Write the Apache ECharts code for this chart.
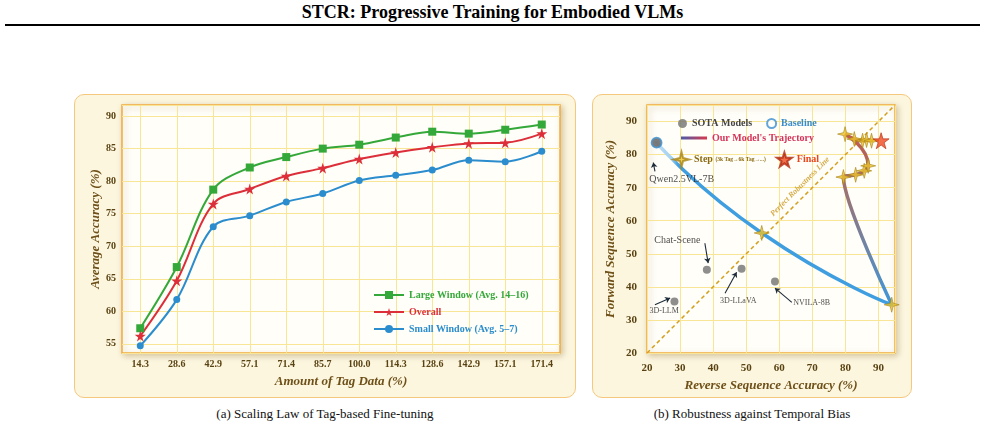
<!DOCTYPE html>
<html>
<head>
<meta charset="utf-8">
<script src="https://cdn.jsdelivr.net/npm/echarts@6/dist/echarts.min.js"></script>
<style>
body{margin:0;background:#fff;font-family:"Liberation Serif",serif;}
#page{position:relative;width:985px;height:431px;overflow:hidden;}
.title{position:absolute;left:0;top:2px;width:985px;text-align:center;font-weight:bold;font-size:18px;color:#000;}
.rule{position:absolute;left:5px;top:24px;width:975px;height:2px;background:#000;}
.panel{position:absolute;top:94px;height:304px;border:1.5px solid #f5c87e;border-radius:10px;background:#fcf6df;box-sizing:border-box;}
.cap{position:absolute;top:406px;font-size:13px;text-align:center;color:#111;}
#chart{position:absolute;left:0;top:0;width:985px;height:431px;}
</style>
</head>
<body>
<div id="page">
  <div class="title">STCR: Progressive Training for Embodied VLMs</div>
  <div class="rule"></div>
  <div class="panel" style="left:74px;width:502px;"></div>
  <div class="panel" style="left:592px;width:320px;"></div>
  <div class="cap" style="left:175px;width:300px;">(a) Scaling Law of Tag-based Fine-tuning</div>
  <div class="cap" style="left:602px;width:300px;">(b) Robustness against Temporal Bias</div>
  <div id="chart"></div>
</div>
<script>
/* (a) scaling law data */
var tagAmounts = ['14.3','28.6','42.9','57.1','71.4','85.7','100.0','114.3','128.6','142.9','157.1','171.4'];
var largeWindow = [57.4,66.8,78.7,82.1,83.7,85.0,85.6,86.7,87.6,87.3,87.9,88.7];
var overallAcc = [56.2,64.7,76.5,78.8,80.8,82.0,83.4,84.4,85.2,85.8,85.9,87.3];
var smallWindow = [54.7,61.8,73.0,74.7,76.8,78.1,80.1,80.9,81.7,83.2,83.0,84.6];

/* (b) robustness data: x = reverse acc, y = forward acc */
var sotaNames = ['Chat-Scene','3D-LLaVA','NVILA-8B','3D-LLM'];
var sotaReverse = [38.1,48.6,58.7,28.3];
var sotaForward = [45.2,45.5,41.6,35.6];
var baselineName = 'Qwen2.5VL-7B';
var baselineReverse = 22.9;
var baselineForward = 83.6;
var trajReverse = [22.9,54.7,94.0,79.4,83.1,85.7,86.9,79.9,82.7,85.2,86.4,87.9];
var trajForward = [83.6,56.3,34.6,73.2,73.9,75.1,76.6,86.2,84.7,84.2,84.4,84.2];
var finalReverse = 90.8;
var finalForward = 84.2;

/* annotation layout (b) */
var annotNames = ['Qwen2.5VL-7B','Chat-Scene','3D-LLaVA','NVILA-8B','3D-LLM'];
var annotPos = [[30.5,72.6],[29.2,54.2],[47.6,35.9],[69.8,35.1],[25.2,32.6]];
var annotSize = [10,10,8,8,8];
var arrowTail = [[22.4,74.9],[37.5,53.2],[43.6,38.1],[63.8,35.3],[22.4,34.6]];
var arrowHead = [[21.9,77.6],[38.5,47.2],[47.1,44.4],[58.7,39.6],[27.0,36.6]];

var FONT = 'Liberation Serif';
var gridYellow = '#f8e596';
var tickColor = '#5a4312';
var nameColor = '#6e5018';
var green = '#35a83a', red = '#dc2f3a', blue = '#2b8dcd';
var star5 = 'path://M50,0 L61,35 L98,35 L68,57 L79,91 L50,70 L21,91 L32,57 L2,35 L39,35 Z';
var star4 = 'path://M50,0 L60,40 L100,50 L60,60 L50,100 L40,60 L0,50 L40,40 Z';

var chart = echarts.init(document.getElementById('chart'));

function zip(xs, ys){
	var out = [];
	for (var i = 0; i < xs.length; i++) out.push([xs[i], ys[i]]);
	return out;
}
var traj = zip(trajReverse, trajForward);

var gridStyle = {
	show:true,
	backgroundColor:'#fffef8',
	borderColor:'#f2ab3c',
	borderWidth:1.5,
	shadowBlur:6,
	shadowColor:'rgba(120,80,0,0.3)',
	shadowOffsetX:2,
	shadowOffsetY:2
};
var labelStyle = {color:tickColor, fontFamily:FONT, fontWeight:'bold', fontSize:10};
var axisNameStyle = {color:nameColor, fontFamily:FONT, fontWeight:'bold', fontStyle:'italic', fontSize:13};

var annotData = annotNames.map(function(n, i){
	return {name:n, value:annotPos[i], label:{fontSize:annotSize[i]}};
});
annotData.push({
	name:'Perfect Robustness Line', value:[66.3,70.3],
	label:{fontSize:8, rotate:45, color:'#c8961a', fontStyle:'italic', fontWeight:'bold'}
});
var arrowData = arrowTail.map(function(t, i){
	return [{coord:t}, {coord:arrowHead[i]}];
});

var option = {
	animation:false,
	grid:[
		Object.assign({left:122, top:105, width:438, height:248}, gridStyle),
		Object.assign({left:647, top:105, width:248, height:248}, gridStyle)
	],
	xAxis:[{
		gridIndex:0, type:'category', data:tagAmounts, boundaryGap:true,
		axisLine:{show:false}, axisTick:{show:false},
		splitLine:{show:true, alignWithLabel:true, lineStyle:{color:gridYellow, width:1}},
		axisLabel:Object.assign({margin:6, interval:0}, labelStyle),
		name:'Amount of Tag Data (%)', nameLocation:'middle', nameGap:22, nameTextStyle:axisNameStyle
	},{
		gridIndex:1, type:'value', min:20, max:95, interval:10,
		axisLine:{show:false}, axisTick:{show:false},
		splitLine:{show:true, lineStyle:{color:gridYellow, width:1}},
		axisLabel:Object.assign({margin:10, showMaxLabel:false}, labelStyle, {fontSize:11}),
		name:'Reverse Sequence Accuracy (%)', nameLocation:'middle', nameGap:25, nameTextStyle:axisNameStyle
	}],
	yAxis:[{
		gridIndex:0, type:'value', min:53.6, max:91.7, splitNumber:7,
		axisLine:{show:false}, axisTick:{show:false},
		splitLine:{show:true, lineStyle:{color:gridYellow, width:1}},
		axisLabel:Object.assign({margin:6, showMinLabel:false, showMaxLabel:false}, labelStyle),
		name:'Average Accuracy (%)', nameLocation:'middle', nameGap:20, nameTextStyle:axisNameStyle
	},{
		gridIndex:1, type:'value', min:20, max:95, interval:10,
		axisLine:{show:false}, axisTick:{show:false},
		splitLine:{show:true, lineStyle:{color:gridYellow, width:1}},
		axisLabel:Object.assign({margin:10, showMaxLabel:false}, labelStyle, {fontSize:11}),
		name:'Forward Sequence Accuracy (%)', nameLocation:'middle', nameGap:30, nameTextStyle:axisNameStyle
	}],
	legend:[{
		orient:'vertical', left:368, top:285, itemWidth:30, itemHeight:10, itemGap:7,
		selectedMode:false,
		textStyle:{fontFamily:FONT, fontWeight:'bold', fontSize:10},
		data:[
			{name:'Large Window (Avg. 14–16)', textStyle:{color:green}},
			{name:'Overall', textStyle:{color:red}},
			{name:'Small Window (Avg. 5–7)', textStyle:{color:blue}}
		]
	},{
		left:673, top:113, itemWidth:9, itemHeight:9, itemGap:14, selectedMode:false,
		textStyle:{fontFamily:FONT, fontWeight:'bold', fontSize:10},
		data:[
			{name:'SOTA Models', icon:'circle', textStyle:{color:'#444'}},
			{name:'Baseline', icon:'emptyCircle', itemStyle:{color:'#3a8fd0', borderColor:'#3a8fd0', borderWidth:1.5}, textStyle:{color:'#3a8cc8'}}
		]
	},{
		left:676, top:128, itemWidth:26, itemHeight:3, selectedMode:false,
		textStyle:{fontFamily:FONT, fontWeight:'bold', fontSize:10},
		data:[{
			name:"Our Model's Trajectory", icon:'rect',
			itemStyle:{color:new echarts.graphic.LinearGradient(0,0,1,0,[{offset:0,color:'#4a5cab'},{offset:1,color:'#d8394c'}])},
			textStyle:{color:'#d6335a'}
		}]
	},{
		left:668, top:146, itemWidth:15, itemHeight:15, itemGap:10, selectedMode:false,
		textStyle:{fontFamily:FONT, fontWeight:'bold', fontSize:10,
			rich:{
				s:{fontFamily:FONT, fontWeight:'bold', fontSize:10, color:'#8b6a12'},
				t:{fontFamily:FONT, fontSize:5.5, color:'#8b6a12'}
			}
		},
		formatter:function(name){
			return name === 'Step' ? '{s|Step} {t|(3k Tag→6k Tag→...)}' : name;
		},
		data:[
			{name:'Step', icon:star4},
			{name:'Final', icon:star5, textStyle:{color:'#e8451c'}}
		]
	}],
	series:[
		{
			name:'Large Window (Avg. 14–16)', type:'line', xAxisIndex:0, yAxisIndex:0,
			data:largeWindow, smooth:0.35, symbol:'rect', symbolSize:8,
			lineStyle:{width:2, color:green}, itemStyle:{color:green}, z:4
		},{
			name:'Overall', type:'line', xAxisIndex:0, yAxisIndex:0,
			data:overallAcc, smooth:0.35, symbol:star5, symbolSize:11,
			lineStyle:{width:2, color:red}, itemStyle:{color:red}, z:4
		},{
			name:'Small Window (Avg. 5–7)', type:'line', xAxisIndex:0, yAxisIndex:0,
			data:smallWindow, smooth:0.35, symbol:'circle', symbolSize:7,
			lineStyle:{width:2, color:blue}, itemStyle:{color:blue}, z:4
		},
		/* (b) */
		{
			name:'robust', type:'line', xAxisIndex:1, yAxisIndex:1,
			data:[[20,20],[95,95]], symbol:'none', silent:true,
			lineStyle:{color:'#d49f1e', width:1.5, type:[4,3]}, z:2
		},{
			name:"Our Model's Trajectory", type:'line', xAxisIndex:1, yAxisIndex:1,
			data:traj.slice(0,3), smooth:0.6, symbol:'none',
			lineStyle:{width:3.5, cap:'round',
				color:new echarts.graphic.LinearGradient(0,0,1,0,[
					{offset:0,color:'#3d8fd6'},{offset:0.025,color:'#b3daf5'},
					{offset:0.07,color:'#a6d2f0'},{offset:0.1,color:'#3f9ee0'},{offset:1,color:'#3f9ee0'}
				])}, z:3
		},{
			name:"Our Model's Trajectory", type:'line', xAxisIndex:1, yAxisIndex:1,
			data:traj.slice(2), smooth:0.6, symbol:'none',
			lineStyle:{width:3.5, cap:'round',
				color:new echarts.graphic.LinearGradient(0,0,0,1,[
					{offset:0,color:'#c35a4a'},{offset:0.3,color:'#a2706c'},{offset:1,color:'#3d98dc'}
				])}, z:3
		},{
			name:'SOTA Models', type:'scatter', xAxisIndex:1, yAxisIndex:1,
			data:zip(sotaReverse, sotaForward).concat([[baselineReverse, baselineForward]]),
			symbol:'circle', symbolSize:8, itemStyle:{color:'#727272'}, z:5
		},{
			name:'Baseline', type:'scatter', xAxisIndex:1, yAxisIndex:1,
			data:[[baselineReverse, baselineForward]], symbol:'circle', symbolSize:10,
			itemStyle:{color:'#777', borderColor:'#3a8fd0', borderWidth:1.8}, z:6
		},{
			name:'Step', type:'scatter', xAxisIndex:1, yAxisIndex:1,
			data:traj.slice(1), symbol:star4, symbolSize:15,
			itemStyle:{color:'#ecc32a', borderColor:'#a8841a', borderWidth:0.8}, z:7
		},{
			name:'Final', type:'scatter', xAxisIndex:1, yAxisIndex:1,
			data:[[finalReverse, finalForward]], symbol:star5, symbolSize:16,
			itemStyle:{color:'#f04b1f', borderColor:'#b02a10', borderWidth:0.8}, z:7
		},{
			name:'annot', type:'scatter', xAxisIndex:1, yAxisIndex:1,
			data:annotData, symbolSize:0, silent:true,
			label:{show:true, position:'inside', formatter:'{b}', color:'#222', fontFamily:FONT},
			markLine:{
				silent:true, symbol:['none','arrow'], symbolSize:5,
				label:{show:false},
				lineStyle:{color:'#1d2b3a', width:1.1, type:'solid', curveness:0.4},
				data:arrowData
			},
			z:8
		}
	]
};
chart.setOption(option);
</script>
</body>
</html>
